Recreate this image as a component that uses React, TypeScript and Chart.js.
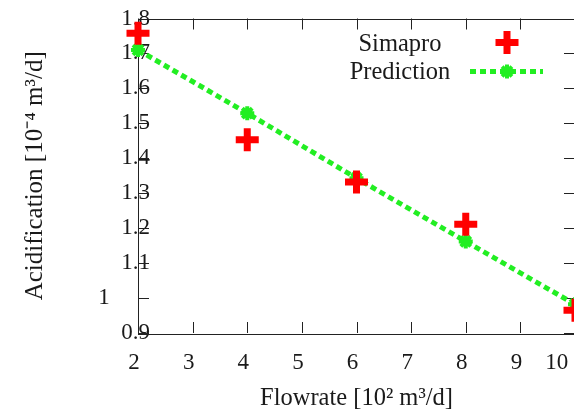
import React, { useEffect, useRef } from 'react';
import { Chart, registerables } from 'chart.js';

Chart.register(...registerables);

const flowrates = [2, 4, 6, 8, 10];
const simapro = [1.758, 1.453, 1.332, 1.211, 0.965];
const prediction = [1.71, 1.529, 1.343, 1.162, 0.982];
const seriesLabels = ['Simapro', 'Prediction'];
const xTitle = 'Flowrate [10² m³/d]';
const yTitle = 'Acidification [10⁻⁴ m³/d]';
const xMin = 2;
const xMax = 10;
const yMin = 0.9;
const yMax = 1.8;

const RED = '#ff0000';
const GREEN = '#22ee22';
const INK = '#1a1a1a';
const FONT = "'Liberation Serif', 'Times New Roman', serif";
const TICK = 11;

const framePlugin = {
  id: 'frame',
  beforeDatasetsDraw(chart: any) {
    const { ctx, chartArea: a, scales } = chart;
    const x = scales.x;
    const y = scales.y;
    ctx.save();
    ctx.strokeStyle = '#222';
    ctx.lineWidth = 1;
    ctx.strokeRect(Math.round(a.left) + 0.5, Math.round(a.top) + 0.5, Math.round(a.right - a.left), Math.round(a.bottom - a.top));
    ctx.beginPath();
    x.ticks.forEach((t: any) => {
      const px = Math.round(x.getPixelForValue(t.value)) + 0.5;
      ctx.moveTo(px, a.bottom);
      ctx.lineTo(px, a.bottom - TICK);
      ctx.moveTo(px, a.top);
      ctx.lineTo(px, a.top + TICK);
    });
    y.ticks.forEach((t: any) => {
      const py = Math.round(y.getPixelForValue(t.value)) + 0.5;
      ctx.moveTo(a.left, py);
      ctx.lineTo(a.left + TICK, py);
      ctx.moveTo(a.right, py);
      ctx.lineTo(a.right - TICK, py);
    });
    ctx.stroke();
    ctx.restore();
  },
};

const legendPlugin = {
  id: 'customLegend',
  afterDatasetsDraw(chart: any) {
    const { ctx, chartArea: a } = chart;
    const textX = a.right - 175;
    const markX = a.right - 68;
    const y1 = a.top + 26;
    const y2 = a.top + 54;
    ctx.save();
    ctx.font = `24.5px ${FONT}`;
    ctx.fillStyle = INK;
    ctx.textAlign = 'center';
    ctx.textBaseline = 'middle';
    ctx.fillText(seriesLabels[0], textX, y1);
    ctx.fillText(seriesLabels[1], textX, y2);
    ctx.strokeStyle = RED;
    ctx.lineWidth = 7;
    ctx.lineCap = 'butt';
    ctx.beginPath();
    ctx.moveTo(markX - 11.5, y1 - 2);
    ctx.lineTo(markX + 11.5, y1 - 2);
    ctx.moveTo(markX, y1 - 2 - 11.5);
    ctx.lineTo(markX, y1 - 2 + 11.5);
    ctx.stroke();
    ctx.strokeStyle = GREEN;
    ctx.lineWidth = 5;
    ctx.setLineDash([6, 4]);
    ctx.beginPath();
    ctx.moveTo(markX - 37, y2 - 1);
    ctx.lineTo(markX + 36, y2 - 1);
    ctx.stroke();
    ctx.setLineDash([]);
    ctx.lineWidth = 4;
    ctx.beginPath();
    const r = 7;
    ctx.moveTo(markX - r, y2 - 1);
    ctx.lineTo(markX + r, y2 - 1);
    ctx.moveTo(markX, y2 - 1 - r);
    ctx.lineTo(markX, y2 - 1 + r);
    const d = r * Math.SQRT1_2;
    ctx.moveTo(markX - d, y2 - 1 - d);
    ctx.lineTo(markX + d, y2 - 1 + d);
    ctx.moveTo(markX - d, y2 - 1 + d);
    ctx.lineTo(markX + d, y2 - 1 - d);
    ctx.stroke();
    ctx.restore();
  },
};

export default function App() {
  const ref = useRef<HTMLCanvasElement | null>(null);

  useEffect(() => {
    if (!ref.current) return;
    const chart = new Chart(ref.current, {
      type: 'line',
      data: {
        datasets: [
          {
            label: seriesLabels[0],
            data: flowrates.map((x, i) => ({ x, y: simapro[i] })),
            showLine: false,
            pointStyle: 'cross',
            pointRadius: 11.5,
            pointBorderWidth: 7,
            pointBorderColor: RED,
            pointBackgroundColor: RED,
            borderColor: RED,
            clip: false,
          } as any,
          {
            label: seriesLabels[1],
            data: flowrates.map((x, i) => ({ x, y: prediction[i] })),
            borderColor: GREEN,
            borderWidth: 5,
            borderDash: [6, 4],
            pointStyle: 'star',
            pointRadius: 7,
            pointBorderWidth: 4,
            pointBorderColor: GREEN,
            pointBackgroundColor: GREEN,
            tension: 0,
            clip: false,
          } as any,
        ],
      },
      options: {
        animation: false,
        responsive: false,
        devicePixelRatio: 1,
        layout: { padding: { left: 0, top: 14, right: 25, bottom: 0 } },
        plugins: { legend: { display: false }, tooltip: { enabled: false } },
        scales: {
          x: {
            type: 'linear',
            min: xMin,
            max: xMax,
            grid: { display: false, drawTicks: false },
            border: { display: false },
            ticks: {
              stepSize: 1,
              padding: 16,
              labelOffset: -4,
              maxRotation: 0,
              minRotation: 0,
              autoSkip: false,
              color: INK,
              font: { family: FONT, size: 23 },
              callback: (v: any) => (v === 10 ? '10     ' : String(v)),
            },
            title: {
              display: true,
              text: xTitle,
              color: INK,
              font: { family: FONT, size: 24.5 },
              padding: { top: 0, bottom: 2 },
            },
            afterFit: (s: any) => {
              s.height = 82;
              s.paddingLeft = 0;
              s.paddingRight = 0;
            },
          },
          y: {
            type: 'linear',
            min: yMin,
            max: yMax,
            grid: { display: false, drawTicks: false },
            border: { display: false },
            ticks: {
              stepSize: 0.1,
              mirror: true,
              crossAlign: 'far',
              padding: -39.75,
              autoSkip: false,
              color: INK,
              font: { family: FONT, size: 23 },
              callback: (v: any) => {
                const n = Number(v);
                if (Math.abs(n - 1) < 1e-9) return '1       ';
                return n.toFixed(1);
              },
            },
            title: {
              display: true,
              text: yTitle,
              color: INK,
              font: { family: FONT, size: 25 },
              padding: { top: 20, bottom: 0 },
            },
            afterFit: (s: any) => {
              s.width = 138;
              s.paddingTop = 0;
              s.paddingBottom = 0;
            },
          },
        },
      } as any,
      plugins: [framePlugin, legendPlugin],
    });
    return () => chart.destroy();
  }, []);

  return (
    <div style={{ position: 'absolute', left: 0, top: 0, width: 600, height: 415, overflow: 'hidden', background: '#fff' }}>
      <canvas ref={ref} width={600} height={415} style={{ display: 'block' }} />
    </div>
  );
}
